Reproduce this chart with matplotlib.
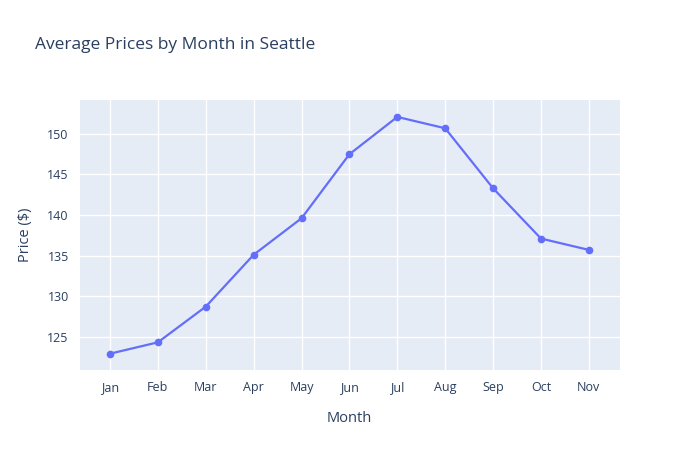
import matplotlib
matplotlib.use("Agg")
import matplotlib.pyplot as plt

months = ["Jan", "Feb", "Mar", "Apr", "May", "Jun", "Jul", "Aug", "Sep", "Oct", "Nov"]
prices = [122.9, 124.3, 128.7, 135.1, 139.6, 147.5, 152.1, 150.7, 143.3, 137.1, 135.7]
yticks = [125, 130, 135, 140, 145, 150]

plt.rcParams['font.family'] = ['Open Sans', 'DejaVu Sans']
txt = "#2a3f5f"

fig = plt.figure(figsize=(7, 4.5), dpi=100)
ax = fig.add_axes([0.114, 0.178, 0.771, 0.6])
ax.set_facecolor("#E5ECF6")
x = list(range(len(months)))
ax.plot(x, prices, color="#636EFA", linewidth=1.6, marker="o", markersize=4.5, zorder=3)

ax.set_xlim(-0.63, 10.64)
ax.set_ylim(120.9, 154.2)
ax.set_xticks(x)
ax.set_xticklabels(months)
ax.set_yticks(yticks)
ax.grid(True, color="white", linewidth=1)
ax.set_axisbelow(True)
for s in ax.spines.values():
    s.set_visible(False)
ax.tick_params(length=0, colors=txt, labelsize=9, pad=8)
ax.set_xlabel("Month", color=txt, fontsize=10.5, labelpad=12)
ax.set_ylabel("Price ($)", color=txt, fontsize=10.5, labelpad=10)
fig.text(35/700, 1 - 45/450, "Average Prices by Month in Seattle", color=txt,
         fontsize=12.5, va="center", ha="left")

fig.savefig("out.png", dpi=100)
